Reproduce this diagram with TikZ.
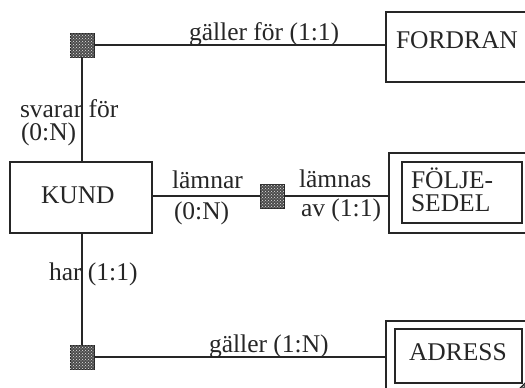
\documentclass[tikz,border=0pt]{standalone}
\usepackage{fontspec}
\setmainfont{Liberation Serif}
\usetikzlibrary{patterns}
\begin{document}
\begin{tikzpicture}[x=1pt,y=-1pt,
  every node/.style={inner sep=0pt,outer sep=0pt},
  conn/.style={line width=1.5pt,black!85},
  relsq/.style={draw=black!85,line width=1pt,minimum size=24pt,fill=black!70,
     postaction={pattern=crosshatch dots,pattern color=white!90!black}},
  ebox/.style={draw=black!85,line width=1.6pt},
  txt/.style={anchor=base west,font=\fontsize{25.5}{29}\selectfont,text=black!85}]
\useasboundingbox (0,0) rectangle (525,388);
\clip (0,0) rectangle (525,388);
% entity boxes
\node[ebox,minimum width=142pt,minimum height=71pt] (kund) at (81,197.5) {};
\node[ebox,minimum width=154pt,minimum height=70pt] (fordran) at (463,47) {};
\node[ebox,minimum width=151pt,minimum height=80pt] (folje) at (464.5,193) {};
\node[ebox,minimum width=120pt,minimum height=61pt] (foljein) at (462,192.5) {};
\node[ebox,minimum width=154pt,minimum height=79pt] (adress) at (463,360.5) {};
\node[ebox,minimum width=127pt,minimum height=54pt] (adressin) at (458.5,356) {};
% relationship squares
\node[relsq] (sq1) at (82,45) {};
\node[relsq] (sq2) at (272,196) {};
\node[relsq] (sq3) at (82,357) {};
\node[relsq,rotate=45] (sq4) at (532,393) {};
% connectors
\draw[conn] (sq1.east) -- (sq1 -| fordran.west);
\draw[conn] (sq1.south) -- (sq1 |- kund.north);
\draw[conn] (kund.east |- sq2) -- (sq2.west);
\draw[conn] (sq2.east) -- (sq2 -| folje.west);
\draw[conn] (sq3 |- kund.south) -- (sq3.north);
\draw[conn] (sq3.east) -- (sq3 -| adress.west);
% texts
\node[txt] (t1) at (189,40) {gäller för (1:1)};
\node[txt] (t2) at (396,48) {FORDRAN};
\node[txt] (t3) at (20,117) {svarar för};
\node[txt] (t4) at (21,140) {(0:N)};
\node[txt] (t5) at (41,203) {KUND};
\node[txt] (t6) at (172,188) {lämnar};
\node[txt] (t7) at (174,219) {(0:N)};
\node[txt] (t8) at (299,187) {lämnas};
\node[txt] (t9) at (301,216) {av (1:1)};
\node[txt] (t10) at (411,188) {FÖLJE-};
\node[txt] (t11) at (411,211) {SEDEL};
\node[txt] (t12) at (49,280) {har (1:1)};
\node[txt] (t13) at (209,352) {gäller (1:N)};
\node[txt] (t14) at (409,360) {ADRESS};
\end{tikzpicture}
\end{document}
